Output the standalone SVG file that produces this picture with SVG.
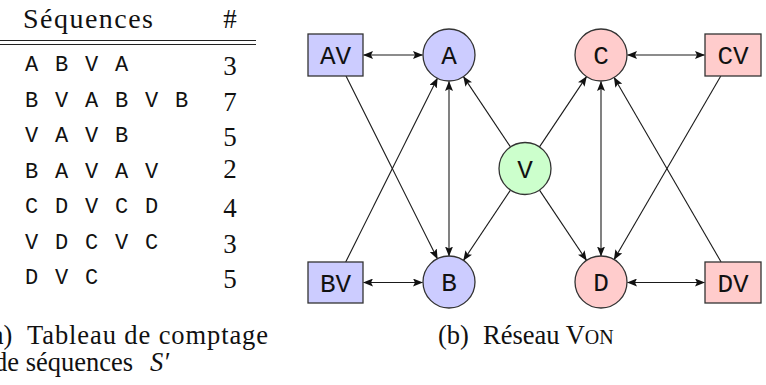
<svg xmlns="http://www.w3.org/2000/svg" width="766" height="385" viewBox="0 0 766 385">
<style>
.serif{font-family:"Liberation Serif","Times New Roman",serif;fill:#111}
.mono{font-family:"Liberation Mono","Courier New",monospace;fill:#111}
.row{font-size:22px;letter-spacing:1.8px;white-space:pre}
.num{font-size:27px;text-anchor:middle}
.lbl{font-size:26px;text-anchor:middle}
.box-b{fill:#ccccff;stroke:#333;stroke-width:1.3}
.box-r{fill:#ffcccc;stroke:#333;stroke-width:1.3}
.box-g{fill:#ccffcc;stroke:#333;stroke-width:1.3}
.edge{stroke:#1a1a1a;stroke-width:1.1;fill:none;marker-end:url(#arr)}
.both{marker-start:url(#arr)}
</style>
<defs>
<marker id="arr" markerUnits="userSpaceOnUse" markerWidth="10" markerHeight="8" refX="9.5" refY="4" orient="auto-start-reverse">
<path d="M0,0 L10,4 L0,8 L2,4 Z" fill="#111"/>
</marker>
</defs>
<rect width="766" height="385" fill="#fff"/>

<!-- table -->
<g id="table">
<text class="serif" x="23" y="28" font-size="28" textLength="130">Séquences</text>
<text class="serif" x="230" y="28" font-size="27" text-anchor="middle">#</text>
<line x1="0" y1="40.5" x2="256" y2="40.5" stroke="#222" stroke-width="1.2"/>
<line x1="0" y1="44.5" x2="256" y2="44.5" stroke="#222" stroke-width="1.2"/>
<text class="mono row" x="25" y="71">A B V A</text>
<text class="mono row" x="25" y="106.5">B V A B V B</text>
<text class="mono row" x="25" y="142">V A V B</text>
<text class="mono row" x="25" y="177.5">B A V A V</text>
<text class="mono row" x="25" y="213">C D V C D</text>
<text class="mono row" x="25" y="248.5">V D C V C</text>
<text class="mono row" x="25" y="284">D V C</text>
<text class="serif num" x="230" y="75">3</text>
<text class="serif num" x="230" y="110.5">7</text>
<text class="serif num" x="230" y="146">5</text>
<text class="serif num" x="230" y="177.5" font-size="21">2</text>
<text class="serif num" x="230" y="217">4</text>
<text class="serif num" x="230" y="252.5">3</text>
<text class="serif num" x="230" y="288">5</text>
<text class="serif" x="-17" y="344" font-size="26.5">(a)<tspan x="27" textLength="241">Tableau de comptage</tspan></text>
<text class="serif" x="-6" y="371" font-size="26.5">de séquences<tspan x="150" font-style="italic">S′</tspan></text>
</g>

<!-- connectors -->
<g id="connectors">
<line class="edge both" x1="363.5" y1="55" x2="422.5" y2="55"/>
<line class="edge both" x1="363.5" y1="282.5" x2="422.5" y2="282.5"/>
<line class="edge both" x1="627.5" y1="55" x2="704.5" y2="55"/>
<line class="edge both" x1="627.5" y1="282.5" x2="704.5" y2="282.5"/>
<line class="edge both" x1="449" y1="81.5" x2="449" y2="256"/>
<line class="edge both" x1="601" y1="81.5" x2="601" y2="256"/>
<line class="edge" x1="510.5" y1="146.9" x2="463.5" y2="76.6"/>
<line class="edge" x1="510.5" y1="190.1" x2="463.5" y2="260.4"/>
<line class="edge" x1="539.5" y1="146.9" x2="586.5" y2="76.6"/>
<line class="edge" x1="539.5" y1="190.1" x2="586.5" y2="260.4"/>
<line class="edge" x1="346" y1="76" x2="437.4" y2="258.7"/>
<line class="edge" x1="345.7" y1="262" x2="437.4" y2="78.2"/>
<line class="edge" x1="720.8" y1="76" x2="614.1" y2="259.5"/>
<line class="edge" x1="721.1" y1="262" x2="614.1" y2="77.5"/>
</g>

<!-- nodes -->
<g id="node-AV"><rect class="box-b" x="308" y="34" width="55" height="42"/><text class="mono lbl" x="335.5" y="64">AV</text></g>
<g id="node-BV"><rect class="box-b" x="308" y="262" width="55" height="41"/><text class="mono lbl" x="335.5" y="291.5">BV</text></g>
<g id="node-CV"><rect class="box-r" x="705" y="34" width="56" height="42"/><text class="mono lbl" x="733" y="64">CV</text></g>
<g id="node-DV"><rect class="box-r" x="705" y="262" width="56" height="41"/><text class="mono lbl" x="733" y="291.5">DV</text></g>
<g id="node-A"><circle class="box-b" cx="449" cy="55" r="26"/><text class="mono lbl" x="449" y="64">A</text></g>
<g id="node-B"><circle class="box-b" cx="449" cy="282" r="26"/><text class="mono lbl" x="449" y="291">B</text></g>
<g id="node-C"><circle class="box-r" cx="601" cy="55" r="26"/><text class="mono lbl" x="601" y="64">C</text></g>
<g id="node-D"><circle class="box-r" cx="601" cy="282" r="26"/><text class="mono lbl" x="601" y="291">D</text></g>
<g id="node-V"><circle class="box-g" cx="525" cy="168.5" r="26"/><text class="mono lbl" x="525" y="177.5">V</text></g>

<text class="serif" x="438" y="344" font-size="26.5">(b)<tspan x="483">Réseau V<tspan font-size="20">ON</tspan></tspan></text>
</svg>
